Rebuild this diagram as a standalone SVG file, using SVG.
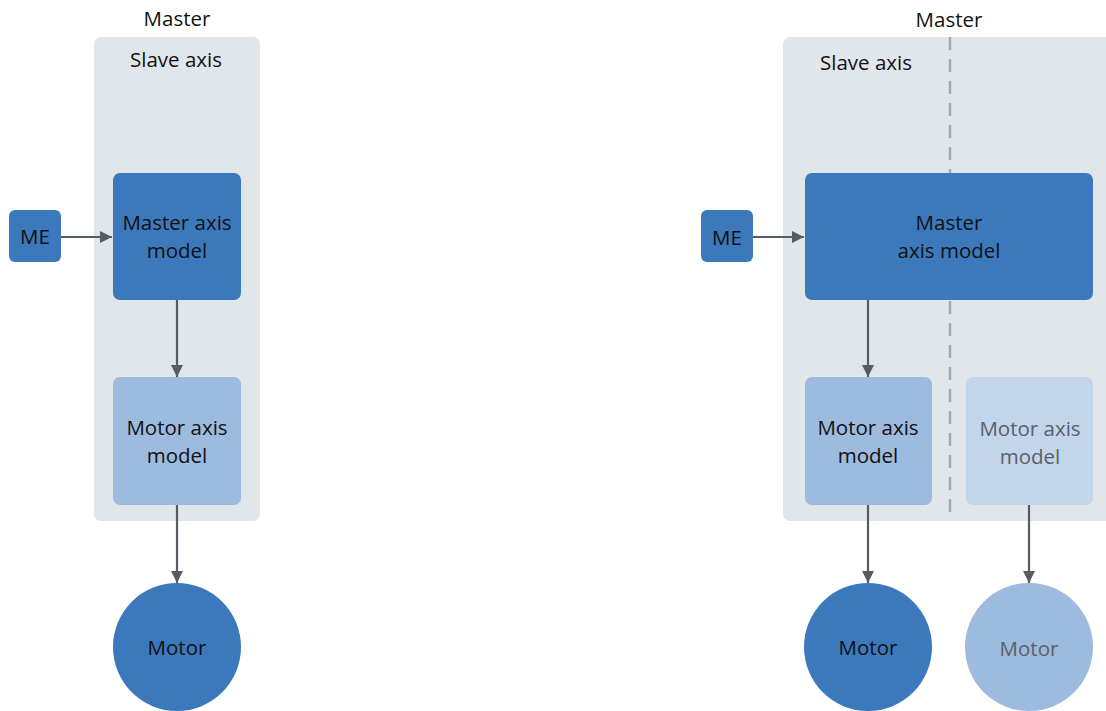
<svg xmlns="http://www.w3.org/2000/svg" width="1106" height="711" viewBox="0 0 1106 711">
  <style>
    text { font-family: "Open Sans", "Liberation Sans", sans-serif; font-size: 20.5px; fill: #111; text-anchor: middle; }
    .panel { fill: #e1e6eb; }
    .dark { fill: #3c78bc; }
    .light { fill: #9dbadf; }
    .pale { fill: #c3d5ea; }
    .muted { fill: #5a6068; }
    .link { stroke: #555c63; stroke-width: 2.2; fill: none; marker-end: url(#arrow); }
    .divider { stroke: #a3aab2; stroke-width: 2.5; stroke-dasharray: 13 9; fill: none; }
  </style>
  <defs>
    <marker id="arrow" viewBox="0 0 10 10" refX="10" refY="5" markerWidth="5.5" markerHeight="5.5" orient="auto" markerUnits="strokeWidth">
      <path d="M0,0 L10,5 L0,10 Z" fill="#555c63"/>
    </marker>
  </defs>

  <rect width="1106" height="711" fill="#ffffff"/>

  <!-- Single-axis layout -->
  <g id="left-master-label"><text x="177" y="26">Master</text></g>
  <g id="left-slave-axis">
    <rect class="panel" x="94" y="37" width="166" height="484" rx="7"/>
    <text x="176" y="67">Slave axis</text>
  </g>
  <g id="left-me">
    <rect class="dark" x="9" y="210" width="52" height="52" rx="6"/>
    <text x="35" y="244">ME</text>
  </g>
  <g id="left-master-axis-model">
    <rect class="dark" x="113" y="173" width="128" height="127" rx="7"/>
    <text x="177" y="230">Master axis</text>
    <text x="177" y="258">model</text>
  </g>
  <g id="left-motor-axis-model">
    <rect class="light" x="113" y="377" width="128" height="128" rx="7"/>
    <text x="177" y="435">Motor axis</text>
    <text x="177" y="463">model</text>
  </g>
  <g id="left-motor">
    <circle class="dark" cx="177" cy="647" r="64"/>
    <text x="177" y="655">Motor</text>
  </g>

  <!-- Split-axis layout -->
  <g id="right-master-label"><text x="949" y="27">Master</text></g>
  <g id="right-slave-axis">
    <rect class="panel" x="783" y="37" width="340" height="484" rx="7"/>
    <text x="866" y="70">Slave axis</text>
    <line class="divider" x1="950" y1="37" x2="950" y2="521"/>
  </g>
  <g id="right-me">
    <rect class="dark" x="701" y="210" width="52" height="52" rx="6"/>
    <text x="727" y="245">ME</text>
  </g>
  <g id="right-master-axis-model">
    <rect class="dark" x="805" y="173" width="288" height="127" rx="7"/>
    <text x="949" y="230">Master</text>
    <text x="949" y="258">axis model</text>
  </g>
  <g id="right-motor-axis-model-1">
    <rect class="light" x="805" y="377" width="127" height="128" rx="7"/>
    <text x="868" y="435">Motor axis</text>
    <text x="868" y="463">model</text>
  </g>
  <g id="right-motor-axis-model-2">
    <rect class="pale" x="966" y="377" width="127" height="128" rx="7"/>
    <text class="muted" x="1030" y="436">Motor axis</text>
    <text class="muted" x="1030" y="464">model</text>
  </g>
  <g id="right-motor-1">
    <circle class="dark" cx="868" cy="647" r="64"/>
    <text x="868" y="655">Motor</text>
  </g>
  <g id="right-motor-2">
    <circle class="light" cx="1029" cy="647" r="64"/>
    <text class="muted" x="1029" y="656">Motor</text>
  </g>

  <!-- Connectors -->
  <g id="connectors">
    <line class="link" x1="61" y1="237" x2="112" y2="237"/>
    <line class="link" x1="177" y1="300" x2="177" y2="377"/>
    <line class="link" x1="177" y1="505" x2="177" y2="583"/>
    <line class="link" x1="753" y1="237" x2="804" y2="237"/>
    <line class="link" x1="868" y1="300" x2="868" y2="377"/>
    <line class="link" x1="868" y1="505" x2="868" y2="583"/>
    <line class="link" x1="1029" y1="505" x2="1029" y2="583"/>
  </g>
</svg>
